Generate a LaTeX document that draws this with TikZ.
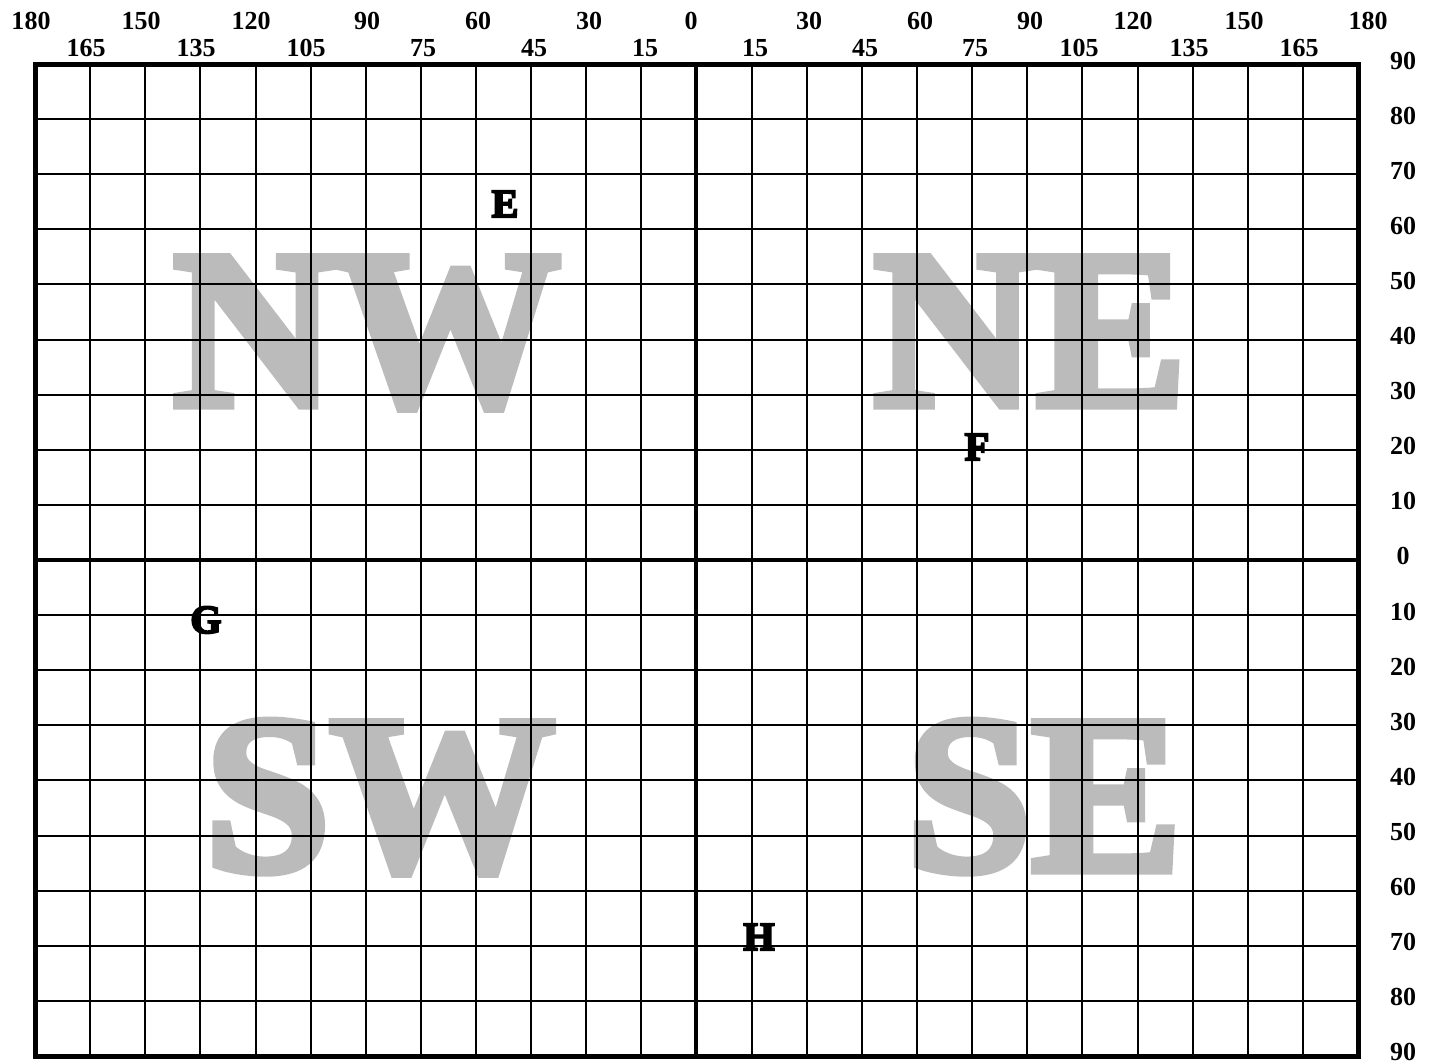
\documentclass[tikz,border=0pt]{standalone}
\usepackage{fontspec}
\setmainfont{Liberation Serif}
\newfontfamily\fatfont{Liberation Serif}[UprightFont={* Bold}, FakeBold=5]
\newfontfamily\wmfont{Liberation Serif}[UprightFont={* Bold}, FakeBold=4]
\definecolor{wmgray}{HTML}{BBBBBB}
\tikzset{
  thinline/.style={line width=2pt, black},
  midline/.style={line width=3.5pt, black},
  frameline/.style={line width=5pt, black},
  lab/.style={inner sep=0pt, font=\fontsize{26}{28}\selectfont\bfseries},
  wm/.style={inner sep=0pt, anchor=base, text=wmgray, font=\fontsize{225}{225}\selectfont\wmfont},
  pt/.style={inner sep=0pt, anchor=base, font=\fontsize{40}{40}\selectfont\fatfont},
}
\begin{document}
\begin{tikzpicture}[x=1pt,y=-1pt]
\useasboundingbox (0,0) rectangle (1431,1063);
% watermarks
\node[wm] (nw) at (367,405) {NW};
\node[wm] (ne) at (1030,405) {NE};
\node[wm] (sw) at (380,870) {SW};
\node[wm] (se) at (1044,870) {SE};
% grid
\foreach \i in {1,...,23} \draw[thinline] ({35+\i*55.125},64) -- ({35+\i*55.125},1056);
\foreach \j in {1,...,17} \draw[thinline] (35,{64+\j*55.111}) -- (1358,{64+\j*55.111});
\draw[midline] (696,64) -- (696,1056);
\draw[midline] (35,560) -- (1358,560);
\draw[frameline] (35,64) rectangle (1358,1056);
% top labels
\foreach \t/\x [count=\k] in {180/31,150/141,120/251,90/367,60/478,30/589,0/691,30/809,60/920,90/1030,120/1133,150/1244,180/1368}
  \node[lab] (ta\k) at (\x,21) {\t};
\foreach \t/\x [count=\k] in {165/86,135/196,105/306,75/423,45/534,15/645,15/755,45/865,75/975,105/1079,135/1189,165/1299}
  \node[lab] (tb\k) at (\x,48) {\t};
% right labels
\foreach \t [count=\k] in {90,80,70,60,50,40,30,20,10,0,10,20,30,40,50,60,70,80,90}
  \node[lab] (r\k) at (1403,{61+(\k-1)*55.05}) {\t};
% points
\node[pt] (e) at (505,217) {E};
\node[pt] (f) at (977,460) {F};
\node[pt] (g) at (206,633) {G};
\node[pt] (h) at (759,950) {H};
\end{tikzpicture}
\end{document}
